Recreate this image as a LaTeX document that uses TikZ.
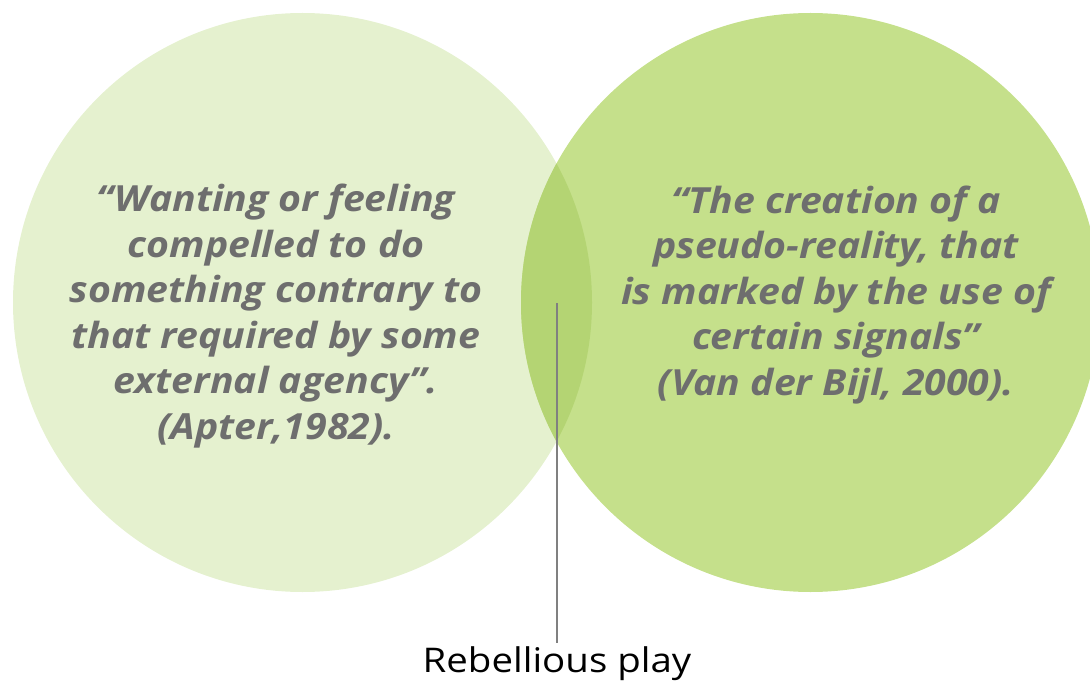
\documentclass[tikz,border=0pt]{standalone}
\usepackage{fontspec}
\setmainfont{Open Sans}
\newfontfamily\quotefont[FakeStretch=1.09]{Open Sans}
\newfontfamily\captionfont[FakeStretch=1.13]{Open Sans}
\definecolor{leftgreen}{HTML}{E5F1CF}
\definecolor{rightgreen}{HTML}{C5E08B}
\definecolor{midgreen}{HTML}{B4D473}
\definecolor{quotegray}{HTML}{6E6E6E}
\definecolor{leadgray}{HTML}{808080}
\begin{document}
\begin{tikzpicture}[x=1pt,y=-1pt,
  quote/.style={text=quotegray, font=\quotefont\fontsize{36}{45.5}\selectfont\bfseries\itshape, align=center},
  caption/.style={text=black, font=\captionfont\fontsize{34}{40}\selectfont},
  leader/.style={draw=leadgray, line width=1.6pt}]
  \useasboundingbox (0,0) rectangle (1090,687);
  % the two sets
  \fill[leftgreen] (302.5,302.5) circle (289.5);
  \fill[rightgreen] (810.5,302.5) circle (289.5);
  % their overlap
  \begin{scope}
    \clip (302.5,302.5) circle (289.5);
    \fill[midgreen] (810.5,302.5) circle (289.5);
  \end{scope}
  \node[quote] (apter) at (276,316) {“Wanting or feeling\\compelled to do\\something contrary to\\that required by some\\external agency”.\\(Apter,1982).};
  \node[quote] (bijl) at (836,295) {“The creation of a\\pseudo-reality, that\\is marked by the use of\\certain signals”\\(Van der Bijl, 2000).};
  \coordinate (overlap) at (557,303);
  \node[caption, anchor=north] (label) at (557,643) {Rebellious play};
  \draw[leader] (overlap) -- (label.north);
\end{tikzpicture}
\end{document}
